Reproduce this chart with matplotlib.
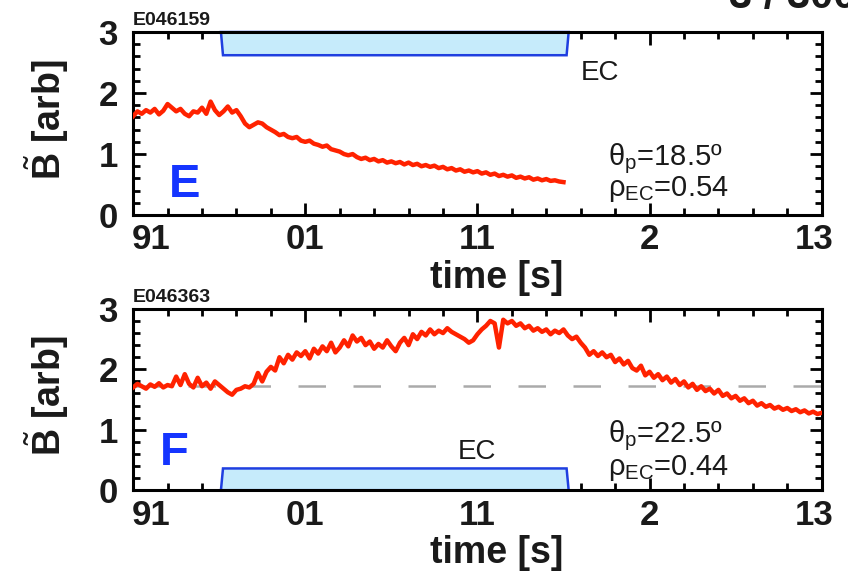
import matplotlib
matplotlib.use("Agg")
import matplotlib.pyplot as plt
from matplotlib.ticker import MultipleLocator
from matplotlib.transforms import ScaledTranslation

# ---------------- data ----------------
tick_pos = [9, 10, 11, 12, 13]
tick_labels = ['91', '01', '11', '2', '13']

# panel E (shot E046159)
tE_start, tE_step = 9.0, 0.025
bE = [1.62, 1.70, 1.66, 1.72, 1.68, 1.74, 1.65, 1.71, 1.82, 1.76,
      1.70, 1.74, 1.66, 1.62, 1.70, 1.68, 1.76, 1.66, 1.86, 1.72,
      1.64, 1.70, 1.78, 1.68, 1.72, 1.62, 1.50, 1.44, 1.48, 1.52,
      1.50, 1.44, 1.40, 1.36, 1.31, 1.33, 1.28, 1.26, 1.28, 1.22,
      1.20, 1.22, 1.17, 1.15, 1.12, 1.14, 1.08, 1.06, 1.04, 1.00,
      0.98, 1.00, 0.95, 0.92, 0.94, 0.90, 0.92, 0.88, 0.90, 0.86,
      0.88, 0.85, 0.87, 0.83, 0.86, 0.82, 0.84, 0.80, 0.82, 0.79,
      0.81, 0.77, 0.79, 0.75, 0.77, 0.73, 0.75, 0.71, 0.73, 0.70,
      0.72, 0.68, 0.70, 0.66, 0.68, 0.64, 0.66, 0.63, 0.65, 0.61,
      0.63, 0.60, 0.62, 0.58, 0.60, 0.57, 0.59, 0.56, 0.57, 0.55,
      0.54]

# panel F (shot E046363)
tF_start, tF_step = 9.0, 0.025
bF = [1.70, 1.76, 1.72, 1.68, 1.75, 1.71, 1.77, 1.70, 1.74, 1.72,
      1.88, 1.74, 1.92, 1.76, 1.70, 1.86, 1.72, 1.78, 1.68, 1.80,
      1.74, 1.68, 1.62, 1.58, 1.66, 1.68, 1.72, 1.70, 1.76, 1.94,
      1.80, 1.96, 2.04, 1.98, 2.20, 2.10, 2.24, 2.16, 2.28, 2.22,
      2.30, 2.18, 2.34, 2.26, 2.38, 2.30, 2.44, 2.28, 2.36, 2.48,
      2.38, 2.56, 2.46, 2.52, 2.40, 2.46, 2.34, 2.42, 2.36, 2.48,
      2.38, 2.30, 2.44, 2.52, 2.40, 2.58, 2.50, 2.62, 2.56, 2.66,
      2.58, 2.64, 2.60, 2.68, 2.62, 2.58, 2.54, 2.50, 2.44, 2.48,
      2.58, 2.66, 2.72, 2.80, 2.76, 2.36, 2.82, 2.76, 2.80, 2.72,
      2.76, 2.68, 2.72, 2.64, 2.68, 2.62, 2.66, 2.58, 2.64, 2.60,
      2.66, 2.56, 2.50, 2.54, 2.44, 2.36, 2.24, 2.30, 2.22, 2.28,
      2.20, 2.24, 2.12, 2.18, 2.08, 2.14, 2.02, 1.98, 2.06, 1.90,
      1.96, 1.86, 1.92, 1.82, 1.88, 1.78, 1.84, 1.74, 1.80, 1.70,
      1.76, 1.66, 1.72, 1.64, 1.68, 1.60, 1.66, 1.56, 1.60, 1.52,
      1.56, 1.48, 1.52, 1.44, 1.48, 1.40, 1.44, 1.38, 1.41, 1.35,
      1.38, 1.33, 1.36, 1.31, 1.34, 1.29, 1.32, 1.27, 1.30, 1.26,
      1.28]

ec_on, ec_off = 9.51, 11.53
ec_slant = 0.012
ecE_bottom, ecE_top = 2.62, 3.0
ecF_bottom, ecF_top = 0.0, 0.36
ref_level_F = 1.72

shots = ['E046159', 'E046363']
panels = ['E', 'F']
theta = ['18.5', '22.5']
rho = ['0.54', '0.44']

tE = [tE_start + i * tE_step for i in range(len(bE))]
tF = [tF_start + i * tF_step for i in range(len(bF))]

# ---------------- style ----------------
plt.rcParams['font.family'] = ['Liberation Sans', 'DejaVu Sans']
plt.rcParams['mathtext.fontset'] = 'custom'
plt.rcParams['mathtext.rm'] = 'Liberation Sans'
plt.rcParams['mathtext.it'] = 'Liberation Sans:italic'
plt.rcParams['mathtext.bf'] = 'Liberation Sans:bold'

red = '#ff2200'
blue_edge = '#1f3fe0'
blue_fill = '#c6ebfb'
txt = '#1a1a1a'

fig = plt.figure(figsize=(8.48, 5.72), dpi=100)
axE = fig.add_axes([0.157, 0.624, 0.812, 0.320])
axF = fig.add_axes([0.157, 0.143, 0.812, 0.317])


def style(ax):
    ax.set_xlim(9, 13)
    ax.set_ylim(0, 3)
    ax.set_xticks(tick_pos)
    ax.set_xticklabels(tick_labels)
    ax.set_yticks([0, 1, 2, 3])
    ax.xaxis.set_minor_locator(MultipleLocator(0.2))
    ax.yaxis.set_minor_locator(MultipleLocator(0.2))
    ax.tick_params(which='both', direction='in', top=True, right=True,
                   width=2.0, color='black')
    ax.tick_params(which='major', length=9)
    ax.tick_params(which='minor', length=5)
    ax.tick_params(axis='x', which='major', labelsize=25, pad=6)
    ax.tick_params(axis='y', which='major', labelsize=25, pad=11)
    for lab in ax.get_xticklabels() + ax.get_yticklabels():
        lab.set_fontweight('bold')
        lab.set_color(txt)
    xl = ax.get_xticklabels()
    xl[0].set_transform(xl[0].get_transform() +
                        ScaledTranslation(0.18, 0, fig.dpi_scale_trans))
    xl[-1].set_transform(xl[-1].get_transform() +
                         ScaledTranslation(-0.08, 0, fig.dpi_scale_trans))
    for s in ax.spines.values():
        s.set_linewidth(2.2)
    ax.set_xlabel('time [s]', fontsize=27, fontweight='bold', color=txt)
    ax.xaxis.set_label_coords(0.528, -0.245)
    ax.set_ylabel(r'$\tilde{\mathbf{B}}$ [arb]', fontsize=27,
                  fontweight='bold', color=txt)
    ax.yaxis.set_label_coords(-0.09, 0.52)


for ax in (axE, axF):
    style(ax)

# panel E
axE.fill([ec_on, ec_on + ec_slant, ec_off - ec_slant, ec_off],
         [ecE_top, ecE_bottom, ecE_bottom, ecE_top],
         facecolor=blue_fill, edgecolor=blue_edge, linewidth=1.8, zorder=2,
         clip_on=False)
axE.plot(tE, bE, color=red, linewidth=3.2, zorder=3)
axE.text(11.71, 2.33, 'EC', fontsize=20, color=txt, ha='center', va='center')
axE.text(9.30, 0.50, panels[0], fontsize=34, fontweight='bold',
         color='#1535ff', ha='center', va='center')
axE.text(11.76, 0.93, r'θ$_{\rm p}$=' + theta[0] + 'º', fontsize=21,
         color=txt, ha='left', va='center')
axE.text(11.76, 0.42, r'ρ$_{\rm EC}$=' + rho[0], fontsize=21,
         color=txt, ha='left', va='center')
axE.text(0.0, 1.015, shots[0], transform=axE.transAxes, fontsize=14,
         fontweight='bold', color=txt, ha='left', va='bottom')

# panel F
axF.axhline(ref_level_F, color='#aaaaaa', linewidth=1.8,
            dashes=(11, 11), zorder=1)
axF.fill([ec_on, ec_on + ec_slant, ec_off - ec_slant, ec_off],
         [ecF_bottom, ecF_top, ecF_top, ecF_bottom],
         facecolor=blue_fill, edgecolor=blue_edge, linewidth=1.8, zorder=2)
axF.plot(tF, bF, color=red, linewidth=3.2, zorder=3)
axF.text(11.0, 0.63, 'EC', fontsize=20, color=txt, ha='center', va='center')
axF.text(9.24, 0.62, panels[1], fontsize=34, fontweight='bold',
         color='#1535ff', ha='center', va='center')
axF.text(11.76, 0.90, r'θ$_{\rm p}$=' + theta[1] + 'º', fontsize=21,
         color=txt, ha='left', va='center')
axF.text(11.76, 0.36, r'ρ$_{\rm EC}$=' + rho[1], fontsize=21,
         color=txt, ha='left', va='center')
axF.text(0.0, 1.015, shots[1], transform=axF.transAxes, fontsize=14,
         fontweight='bold', color=txt, ha='left', va='bottom')

# partially cropped header at top right
fig.text(0.935, 1.005, '3 / 300', fontsize=30, fontweight='bold',
         color=txt, ha='center', va='center')

fig.savefig('out.png', dpi=100)
